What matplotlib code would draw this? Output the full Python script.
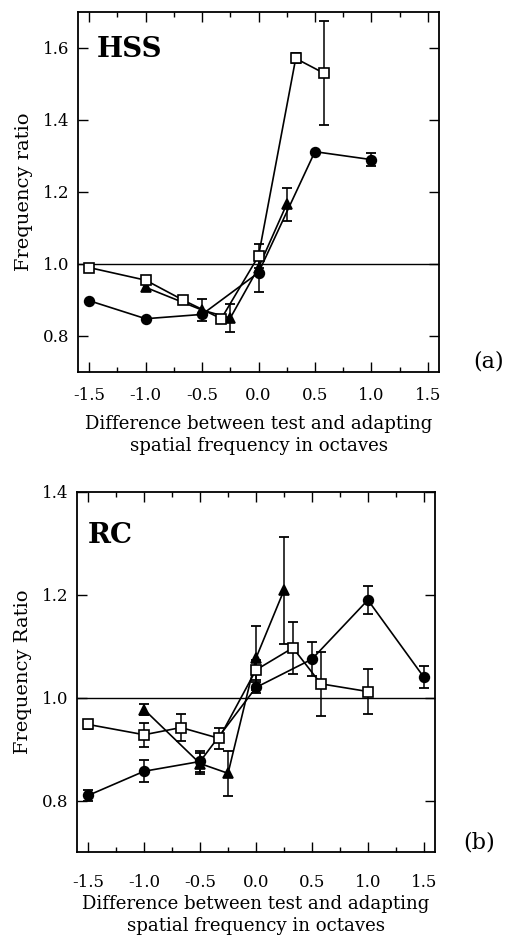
import matplotlib
matplotlib.use("Agg")
import matplotlib.pyplot as plt
from matplotlib.ticker import MultipleLocator

# ---------------- Data: panel (a) HSS ----------------
a_circ_x = [-1.5, -1.0, -0.5, 0.0, 0.5, 1.0]
a_circ_y = [0.898, 0.848, 0.860, 0.976, 1.312, 1.290]
a_circ_e = [0.0, 0.0, 0.0, 0.053, 0.0, 0.018]

a_tri_x = [-1.0, -0.5, -0.25, 0.0, 0.25]
a_tri_y = [0.935, 0.872, 0.850, 0.990, 1.166]
a_tri_e = [0.010, 0.030, 0.040, 0.0, 0.046]

a_sq_x = [-1.5, -1.0, -0.67, -0.33, 0.0, 0.33, 0.58]
a_sq_y = [0.990, 0.955, 0.900, 0.848, 1.022, 1.571, 1.530]
a_sq_e = [0.0, 0.0, 0.0, 0.0, 0.033, 0.014, 0.145]

# ---------------- Data: panel (b) RC ----------------
b_circ_x = [-1.5, -1.0, -0.5, 0.0, 0.5, 1.0, 1.5]
b_circ_y = [0.810, 0.857, 0.876, 1.020, 1.075, 1.190, 1.040]
b_circ_e = [0.010, 0.021, 0.020, 0.010, 0.033, 0.027, 0.022]

b_tri_x = [-1.0, -0.5, -0.25, 0.0, 0.25]
b_tri_y = [0.977, 0.872, 0.853, 1.077, 1.209]
b_tri_e = [0.011, 0.020, 0.044, 0.062, 0.104]

b_sq_x = [-1.5, -1.0, -0.67, -0.33, 0.0, 0.33, 0.58, 1.0]
b_sq_y = [0.948, 0.928, 0.942, 0.921, 1.054, 1.097, 1.027, 1.012]
b_sq_e = [0.008, 0.023, 0.026, 0.020, 0.020, 0.050, 0.062, 0.044]

x_ticks = [-1.5, -1.0, -0.5, 0.0, 0.5, 1.0, 1.5]
x_ticklabels = ["-1.5", "-1.0", "-0.5", "0.0", "0.5", "1.0", "1.5"]
a_yticks = [0.8, 1.0, 1.2, 1.4, 1.6]
b_yticks = [0.8, 1.0, 1.2, 1.4]
xlabel = "Difference between test and adapting\nspatial frequency in octaves"

plt.rcParams['font.family'] = ['DejaVu Serif']

fig = plt.figure(figsize=(5.11, 9.40), dpi=100)
ax_a = fig.add_axes([78/511, 1-372/940, 361/511, 360/940])
ax_b = fig.add_axes([77/511, 1-852/940, 358/511, 360/940])


def draw_series(ax, x, y, e, marker, face):
    ax.plot(x, y, color='black', lw=1.2, zorder=2)
    for xi, yi, ei in zip(x, y, e):
        if ei > 0:
            ax.errorbar([xi], [yi], yerr=[ei], fmt='none', ecolor='black',
                        elinewidth=1.1, capsize=3.5, capthick=1.3, zorder=3)
    ms = 7.5 if marker == 's' else 7
    ax.plot(x, y, linestyle='none', marker=marker, ms=ms,
            markerfacecolor=face, markeredgecolor='black', mew=1.2, zorder=4)


def style(ax, yticks, ylim, ylabel, tag, tag_x, tag_y, letter, xpad,
          letter_x, letter_y):
    ax.set_xlim(-1.6, 1.6)
    ax.set_ylim(*ylim)
    ax.axhline(1.0, color='black', lw=1.0, zorder=1)
    ax.set_xticks(x_ticks)
    ax.set_xticklabels(x_ticklabels)
    ax.xaxis.set_minor_locator(MultipleLocator(0.25))
    ax.set_yticks(yticks)
    ax.set_yticklabels([f"{v:.1f}" for v in yticks])
    ax.tick_params(axis='both', which='major', direction='in', length=7,
                   width=1.0, top=True, right=True, labelsize=12)
    ax.tick_params(axis='x', which='major', pad=xpad)
    ax.tick_params(axis='y', which='major', pad=6)
    ax.tick_params(axis='x', which='minor', direction='in', length=3.5,
                   width=1.0, top=True, bottom=True)
    for s in ax.spines.values():
        s.set_linewidth(1.3)
    ax.set_xlabel(xlabel, fontsize=13.1, linespacing=1.25)
    ax.xaxis.set_label_coords(0.5, -0.12)
    ax.set_ylabel(ylabel, fontsize=14)
    ax.yaxis.set_label_coords(-0.125, 0.5)
    ax.text(tag_x, tag_y, tag, transform=ax.transAxes, fontsize=20,
            fontweight='bold', va='baseline', ha='left')
    ax.text(letter_x, letter_y, letter, transform=ax.transAxes, fontsize=16,
            va='center', ha='left')


draw_series(ax_a, a_circ_x, a_circ_y, a_circ_e, 'o', 'black')
draw_series(ax_a, a_tri_x, a_tri_y, a_tri_e, '^', 'black')
draw_series(ax_a, a_sq_x, a_sq_y, a_sq_e, 's', 'white')
style(ax_a, a_yticks, (0.7, 1.7), "Frequency ratio", "HSS", 0.052, 0.875,
      "(a)", 11, 1.095, 0.03)

draw_series(ax_b, b_circ_x, b_circ_y, b_circ_e, 'o', 'black')
draw_series(ax_b, b_tri_x, b_tri_y, b_tri_e, '^', 'black')
draw_series(ax_b, b_sq_x, b_sq_y, b_sq_e, 's', 'white')
style(ax_b, b_yticks, (0.7, 1.4), "Frequency Ratio", "RC", 0.03, 0.858,
      "(b)", 16, 1.08, 0.025)

fig.savefig("out.png", dpi=100)
